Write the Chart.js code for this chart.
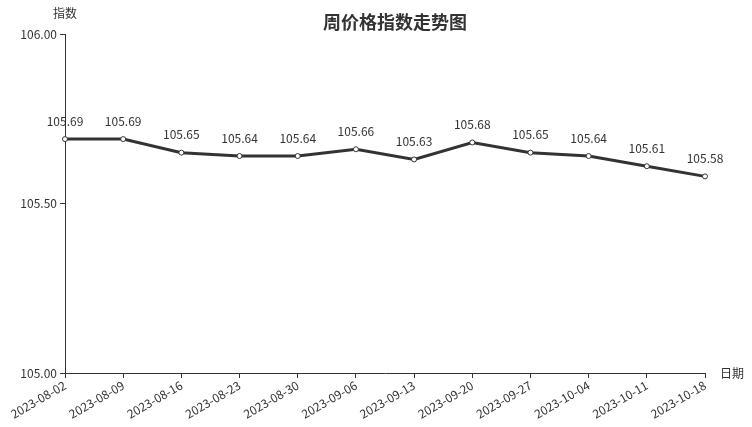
<!DOCTYPE html>
<html>
<head>
<meta charset="utf-8">
<script src="https://cdn.jsdelivr.net/npm/chart.js@4/dist/chart.umd.min.js"></script>
<style>
  html, body { margin: 0; padding: 0; background: #fff; }
  #wrap { width: 752px; height: 427px; position: relative; }
</style>
</head>
<body>
<div id="wrap"><canvas id="myChart"></canvas></div>
<script>
var dates = ['2023-08-02', '2023-08-09', '2023-08-16', '2023-08-23', '2023-08-30', '2023-09-06',
             '2023-09-13', '2023-09-20', '2023-09-27', '2023-10-04', '2023-10-11', '2023-10-18'];
var priceIndex = [105.69, 105.69, 105.65, 105.64, 105.64, 105.66, 105.63, 105.68, 105.65, 105.64, 105.61, 105.58];
var yTicks = [105.00, 105.50, 106.00];

var fontFamily = '"Noto Sans CJK SC", "Noto Sans", sans-serif';
var txtColor = '#333';

// labels, titles and axis names drawn by hand
var extras = {
    id: 'extras',
    afterDatasetsDraw: function (chart) {
        var ctx = chart.ctx;
        var meta = chart.getDatasetMeta(0);
        ctx.save();
        ctx.fillStyle = txtColor;
        ctx.font = '12px ' + fontFamily;
        ctx.textAlign = 'center';
        ctx.textBaseline = 'middle';
        meta.data.forEach(function (pt, i) {
            ctx.fillText(priceIndex[i].toFixed(2), pt.x, pt.y - 18);
        });
        var area = chart.chartArea;
        ctx.fillText('指数', area.left, 13);
        ctx.textAlign = 'left';
        ctx.fillText('日期', area.right + 15, area.bottom);
        ctx.font = 'bold 18px ' + fontFamily;
        ctx.textAlign = 'center';
        ctx.fillText('周价格指数走势图', 395, 22);
        ctx.restore();
    }
};

new Chart(document.getElementById('myChart').getContext('2d'), {
    type: 'line',
    data: {
        labels: dates,
        datasets: [{
            data: priceIndex,
            borderColor: '#333',
            borderWidth: 3,
            tension: 0,
            pointRadius: 2.5,
            pointBackgroundColor: '#fff',
            pointBorderColor: '#333',
            pointBorderWidth: 1
        }]
    },
    options: {
        responsive: true,
        maintainAspectRatio: false,
        animation: false,
        layout: { padding: { top: 34, right: 47, left: 0, bottom: 0 } },
        plugins: {
            legend: { display: false },
            title: { display: false },
            tooltip: { enabled: false }
        },
        scales: {
            x: {
                offset: false,
                grid: { drawOnChartArea: false, drawTicks: true, tickLength: 5, color: '#333' },
                border: { color: '#333', width: 1 },
                ticks: {
                    color: txtColor,
                    font: { size: 12, family: fontFamily },
                    maxRotation: 30,
                    minRotation: 30,
                    autoSkip: false,
                    padding: 0
                },
                afterFit: function (scale) { scale.height = 54; }
            },
            y: {
                min: 105,
                max: 106,
                afterBuildTicks: function (scale) {
                    scale.ticks = yTicks.map(function (v) { return { value: v }; });
                },
                grid: { drawOnChartArea: false, drawTicks: true, tickLength: 5, color: '#333' },
                border: { color: '#333', width: 1 },
                ticks: {
                    color: txtColor,
                    font: { size: 12, family: fontFamily },
                    padding: 3,
                    callback: function (v) { return Number(v).toFixed(2); }
                },
                afterFit: function (scale) { scale.width = 65; }
            }
        }
    },
    plugins: [extras]
});
</script>
</body>
</html>
